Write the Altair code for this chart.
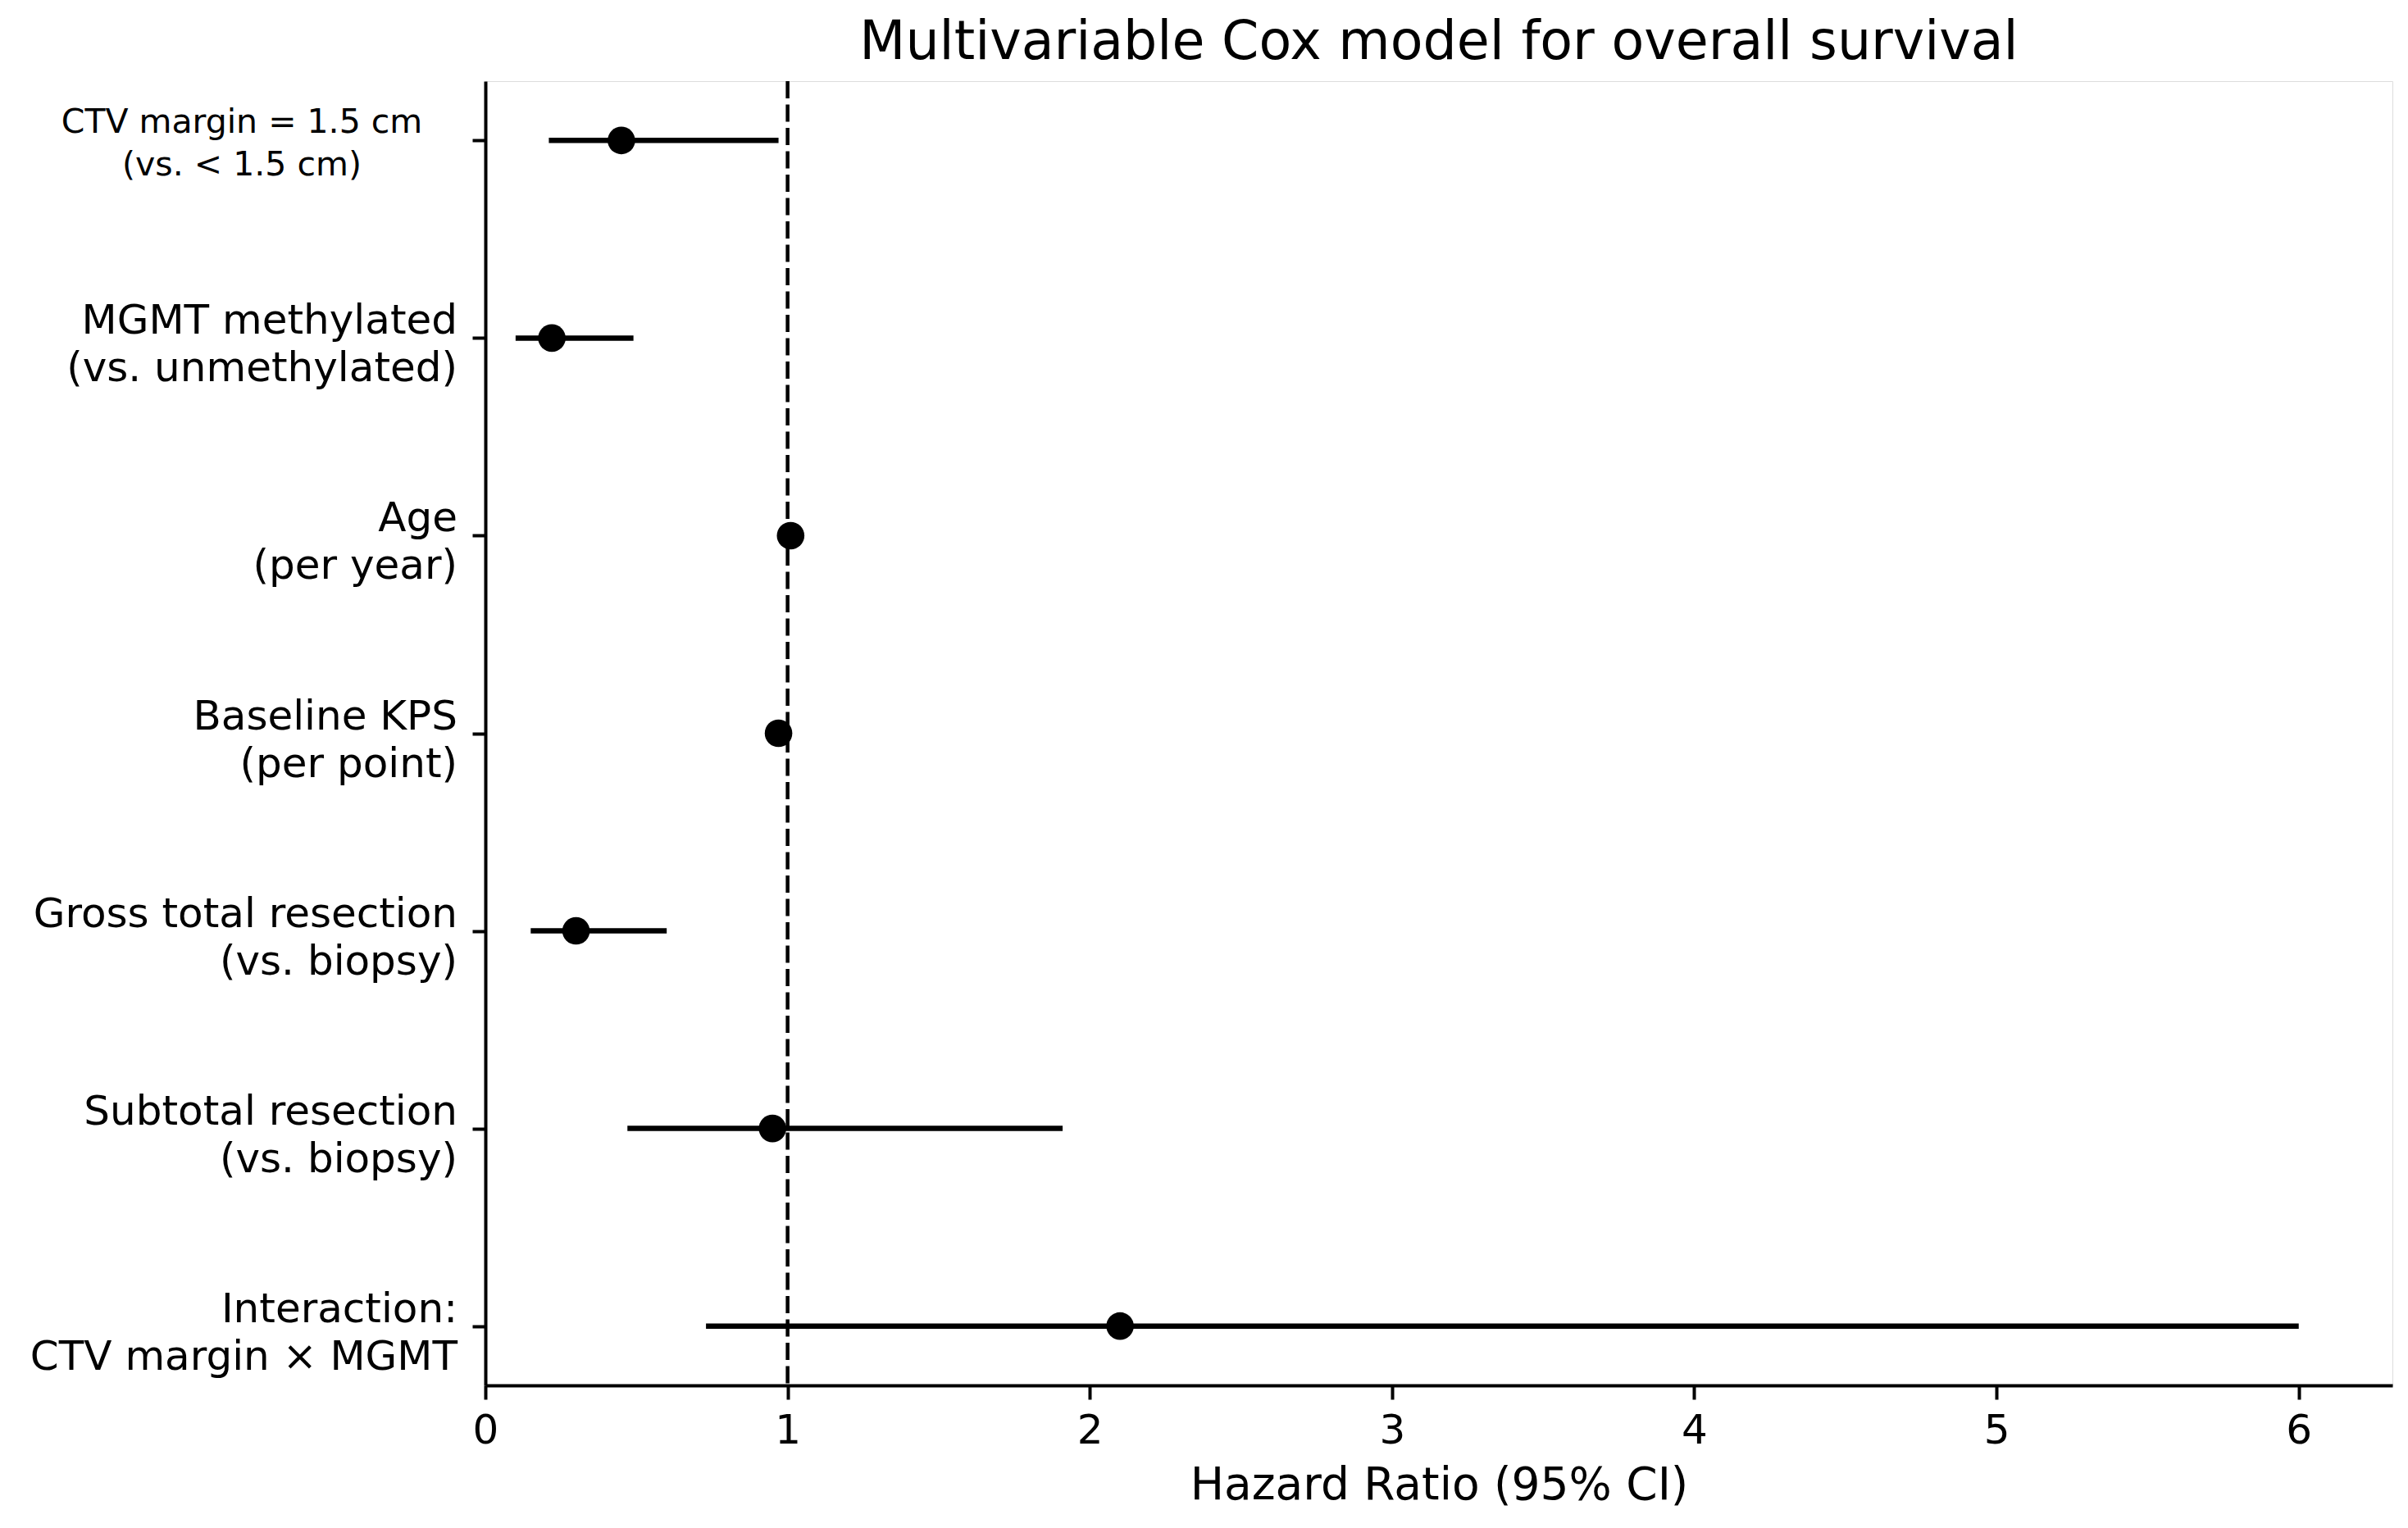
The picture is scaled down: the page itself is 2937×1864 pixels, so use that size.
import altair as alt
import pandas as pd

# ---- data ----
keys = ["ctv", "mgmt", "age", "kps", "gtr", "str", "int"]
labels = [
    "CTV margin = 1.5 cm\n(vs. < 1.5 cm)",
    "MGMT methylated\n(vs. unmethylated)",
    "Age\n(per year)",
    "Baseline KPS\n(per point)",
    "Gross total resection\n(vs. biopsy)",
    "Subtotal resection\n(vs. biopsy)",
    "Interaction:\nCTV margin × MGMT",
]
hr = [0.45, 0.22, 1.01, 0.97, 0.30, 0.95, 2.10]
lower = [0.21, 0.10, 0.99, 0.95, 0.15, 0.47, 0.73]
upper = [0.97, 0.49, 1.03, 0.99, 0.60, 1.91, 6.00]
x_ticks = [0, 1, 2, 3, 4, 5, 6]
ref_line = [1.0]

df = pd.DataFrame({"key": keys, "label": labels, "hr": hr, "lower": lower, "upper": upper})
ref_df = pd.DataFrame({"ref": ref_line})

FONT = "DejaVu Sans"

x_scale = alt.Scale(domain=[0, 6.31], nice=False, zero=False)
x_axis = alt.Axis(
    values=x_ticks, format="d", grid=False, labelFlush=False,
    tickSize=17, tickWidth=4, tickColor="black",
    domainColor="black", domainWidth=4,
    labelFontSize=50, labelPadding=13, labelColor="black", labelFont=FONT,
    title="Hazard Ratio (95% CI)", titleFontSize=55, titleFont=FONT,
    titleFontWeight="normal", titleColor="black",
    titleBaseline="alphabetic", titleY=138,
)
y_enc = alt.Y(
    "key:N", sort=keys,
    scale=alt.Scale(type="point", padding=0.3),
    axis=alt.Axis(
        labels=False, title=None, grid=False,
        tickSize=16, tickWidth=4, tickColor="black",
        domainColor="black", domainWidth=4,
    ),
)

base = alt.Chart(df)

ref = alt.Chart(ref_df).mark_rule(
    color="black", strokeWidth=4.5, strokeDash=[21, 7.5]
).encode(x=alt.X("ref:Q", scale=x_scale, axis=x_axis))

bars = base.mark_rule(color="black", strokeWidth=6.5).encode(
    x=alt.X("lower:Q", scale=x_scale, axis=x_axis),
    x2="upper:Q",
    y=y_enc,
)

pts = base.mark_point(filled=True, shape="circle", size=1130, color="black", opacity=1).encode(
    x=alt.X("hr:Q", scale=x_scale, axis=x_axis),
    y=y_enc,
)

txt_main = base.transform_filter(alt.datum.key != "ctv").mark_text(
    align="right", baseline="middle", lineBreak="\n",
    fontSize=50, lineHeight=58, font=FONT, color="black", dy=-20,
).encode(x=alt.value(-34), y=y_enc, text="label:N")

txt_ctv = base.transform_filter(alt.datum.key == "ctv").mark_text(
    align="center", baseline="middle", lineBreak="\n",
    fontSize=41, lineHeight=52, font=FONT, color="black", dy=-21,
).encode(x=alt.value(-297), y=y_enc, text="label:N")

chart = alt.layer(ref, bars, pts, txt_main, txt_ctv).properties(
    width=2326,
    height=1591,
    title=alt.TitleParams(
        "Multivariable Cox model for overall survival",
        fontSize=65, font=FONT, fontWeight="normal", color="black",
        anchor="middle", frame="group", baseline="alphabetic", offset=-40,
    ),
    autosize=alt.AutoSizeParams(type="none"),
    padding={"left": 584, "top": 91, "right": 8, "bottom": 166},
).configure_view(stroke=None).configure(background="white")

chart.save("out.html", embed_options={"renderer": "svg", "actions": False})
